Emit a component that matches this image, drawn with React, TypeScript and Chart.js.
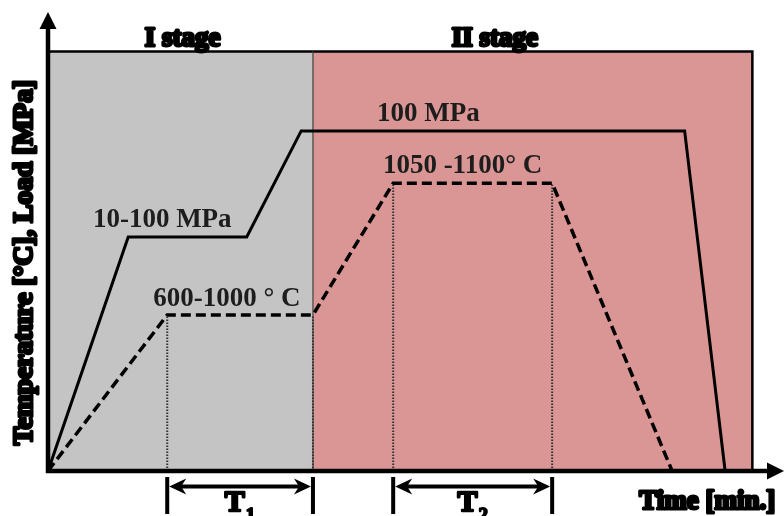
import React, { useEffect, useRef } from 'react';
import { Chart, registerables } from 'chart.js';

Chart.register(...registerables);

// ---- data (arbitrary time units on x, relative level on y) ----
const loadTime = [0, 10.9, 27.0, 34.4, 86.5, 92.0];
const loadValue = [0, 51.0, 51.0, 74.1, 74.1, 0];
const tempTime = [0, 16.2, 36.0, 46.9, 68.5, 84.8];
const tempValue = [0, 34.0, 34.0, 62.7, 62.7, 0];
const stageNames = ['I stage', 'II stage'];
const stageBounds = [0, 36.0, 95.7];
const stageTop = 91.4;
const loadLabels = ['10-100 MPa', '100 MPa'];
const tempLabels = ['600-1000 ° C', '1050 -1100° C'];
const holdSubscripts = ['1', '2'];
const xTitle = 'Time [min.]';
const yTitle = 'Temperature [°C], Load [MPa]';

const X_MAX = 100;
const Y_MAX = 100;

const GRAY = '#c4c4c4';
const PINK = '#da9694';
const TEXT = '#1d1d1d';
const SERIF = '"Liberation Serif", "Times New Roman", serif';

const pts = (xs: number[], ys: number[]) => xs.map((x, i) => ({ x, y: ys[i] }));

function drawHeavy(ctx: CanvasRenderingContext2D, text: string, x: number, y: number, size: number, align: CanvasTextAlign, stroke = 2.2) {
  ctx.font = `bold ${size}px ${SERIF}`;
  ctx.textAlign = align;
  ctx.textBaseline = 'alphabetic';
  ctx.fillStyle = '#000';
  ctx.strokeStyle = '#000';
  ctx.lineWidth = stroke;
  ctx.lineJoin = 'round';
  ctx.strokeText(text, x, y);
  ctx.fillText(text, x, y);
}

function drawPlain(ctx: CanvasRenderingContext2D, text: string, x: number, y: number, size: number) {
  ctx.font = `bold ${size}px ${SERIF}`;
  ctx.textAlign = 'left';
  ctx.textBaseline = 'alphabetic';
  ctx.fillStyle = TEXT;
  ctx.fillText(text, x, y);
}

function arrowHead(ctx: CanvasRenderingContext2D, tipX: number, tipY: number, dirX: number, dirY: number, len: number, half: number) {
  const px = -dirY, py = dirX;
  const bx = tipX - dirX * len, by = tipY - dirY * len;
  const nx = tipX - dirX * len * 0.7, ny = tipY - dirY * len * 0.7;
  ctx.beginPath();
  ctx.moveTo(tipX, tipY);
  ctx.lineTo(bx + px * half, by + py * half);
  ctx.lineTo(nx, ny);
  ctx.lineTo(bx - px * half, by - py * half);
  ctx.closePath();
  ctx.fill();
}

const schematicPlugin = {
  id: 'schematic',
  afterDraw(chart: any) {
    const { ctx, chartArea, scales } = chart;
    const xs = scales.x, ys = scales.y;
    const X = (v: number) => xs.getPixelForValue(v);
    const Y = (v: number) => ys.getPixelForValue(v);
    const { left, right, top, bottom } = chartArea;
    ctx.save();

    // axes with arrows
    ctx.strokeStyle = '#000';
    ctx.fillStyle = '#000';
    ctx.lineWidth = 4.5;
    ctx.lineCap = 'butt';
    ctx.beginPath();
    ctx.moveTo(left, bottom + 2);
    ctx.lineTo(left, top + 12);
    ctx.moveTo(left - 2, bottom);
    ctx.lineTo(right - 12, bottom);
    ctx.stroke();
    ctx.beginPath();
    ctx.moveTo(left, top);
    ctx.lineTo(left + 8.5, top + 17);
    ctx.lineTo(left - 8.5, top + 17);
    ctx.closePath();
    ctx.fill();
    ctx.beginPath();
    ctx.moveTo(right, bottom);
    ctx.lineTo(right - 17, bottom - 8.5);
    ctx.lineTo(right - 17, bottom + 8.5);
    ctx.closePath();
    ctx.fill();

    // hold-time markers T1, T2 below the axis
    const holds = [[tempTime[1], tempTime[2]], [tempTime[3], tempTime[4]]];
    holds.forEach((pair, k) => {
      const x1 = X(pair[0]);
      const x2 = X(pair[1]);
      ctx.lineWidth = 4;
      ctx.beginPath();
      ctx.moveTo(x1, bottom + 6);
      ctx.lineTo(x1, bottom + 43);
      ctx.moveTo(x2, bottom + 6);
      ctx.lineTo(x2, bottom + 43);
      ctx.moveTo(x1 + 10, bottom + 15.5);
      ctx.lineTo(x2 - 10, bottom + 15.5);
      ctx.stroke();
      arrowHead(ctx, x1 + 2, bottom + 15.5, -1, 0, 17, 8);
      arrowHead(ctx, x2 - 2, bottom + 15.5, 1, 0, 17, 8);
      const cx = (x1 + x2) / 2;
      ctx.font = `bold 30px ${SERIF}`;
      const wT = ctx.measureText('T').width;
      ctx.font = `bold 19px ${SERIF}`;
      const wS = ctx.measureText(holdSubscripts[k]).width;
      const start = cx - (wT + wS + 1) / 2;
      drawHeavy(ctx, 'T', start, bottom + 40, 30, 'left', 2.4);
      drawHeavy(ctx, holdSubscripts[k], start + wT + 1, bottom + 50, 19, 'left', 1.8);
    });

    // stage titles
    drawHeavy(ctx, stageNames[0], X(18.3), Y(92.6), 27, 'center', 3);
    drawHeavy(ctx, stageNames[1], X(60.7), Y(92.6), 27, 'center', 3);

    // curve annotations
    drawPlain(ctx, loadLabels[0], X(6.1), Y(53.2), 27);
    drawPlain(ctx, loadLabels[1], X(44.7), Y(76.3), 27);
    drawPlain(ctx, tempLabels[0], X(14.3), Y(35.9), 27);
    drawPlain(ctx, tempLabels[1], X(45.5), Y(64.9), 27);

    // axis titles
    drawHeavy(ctx, xTitle, X(98.8), bottom + 38, 27, 'right', 3);
    ctx.save();
    ctx.translate(left - 16, Y(45.4));
    ctx.rotate(-Math.PI / 2);
    drawHeavy(ctx, yTitle, 0, 0, 27.5, 'center', 3);
    ctx.restore();

    ctx.restore();
  },
};

export default function App() {
  const ref = useRef<HTMLCanvasElement | null>(null);

  useEffect(() => {
    if (!ref.current) return;
    const dotted: any[] = [];
    for (let i = 1; i <= 4; i++) {
      dotted.push({ x: tempTime[i], y: 0 });
      dotted.push({ x: tempTime[i], y: tempValue[i] });
      dotted.push({ x: tempTime[i], y: null });
    }
    const chart = new Chart(ref.current, {
      type: 'line',
      data: {
        datasets: [
          {
            label: 'Load',
            data: pts(loadTime, loadValue),
            borderColor: '#000',
            borderWidth: 3,
            pointRadius: 0,
            fill: false,
            tension: 0,
            order: 0,
          },
          {
            label: 'Temperature',
            data: pts(tempTime, tempValue),
            borderColor: '#000',
            borderWidth: 3.5,
            borderDash: [10, 5],
            pointRadius: 0,
            fill: false,
            tension: 0,
            order: 1,
          },
          {
            label: 'hold markers',
            data: dotted,
            borderColor: '#333',
            borderWidth: 2,
            borderDash: [1.5, 1.5],
            pointRadius: 0,
            fill: false,
            spanGaps: false,
            order: 5,
          },
          {
            label: stageNames[0],
            data: [
              { x: stageBounds[0], y: stageTop },
              { x: stageBounds[1], y: stageTop },
              { x: stageBounds[1], y: 0 },
            ],
            borderColor: '#000',
            borderWidth: 2.5,
            backgroundColor: GRAY,
            fill: 'origin',
            pointRadius: 0,
            segment: {
              borderColor: (c: any) => (c.p0DataIndex === 1 ? 'rgba(70,70,70,0.55)' : undefined),
              borderWidth: (c: any) => (c.p0DataIndex === 1 ? 1 : undefined),
            },
            order: 10,
          },
          {
            label: stageNames[1],
            data: [
              { x: stageBounds[1], y: stageTop },
              { x: stageBounds[2], y: stageTop },
              { x: stageBounds[2], y: 0 },
            ],
            borderColor: '#000',
            borderWidth: 2.5,
            backgroundColor: PINK,
            fill: 'origin',
            pointRadius: 0,
            order: 11,
          },
        ] as any,
      },
      options: {
        animation: false,
        responsive: false,
        devicePixelRatio: 1,
        layout: { padding: { left: 48, right: 0, top: 12, bottom: 45 } },
        scales: {
          x: { type: 'linear', min: 0, max: X_MAX, display: false },
          y: { type: 'linear', min: 0, max: Y_MAX, display: false },
        },
        plugins: {
          legend: { display: false },
          tooltip: { enabled: false },
        },
        events: [],
      },
      plugins: [schematicPlugin],
    });
    return () => chart.destroy();
  }, []);

  return (
    <div style={{ position: 'fixed', left: 0, top: 0, width: 784, height: 516, background: '#fff' }}>
      <canvas ref={ref} width={784} height={516} style={{ display: 'block', width: 784, height: 516 }} />
    </div>
  );
}
